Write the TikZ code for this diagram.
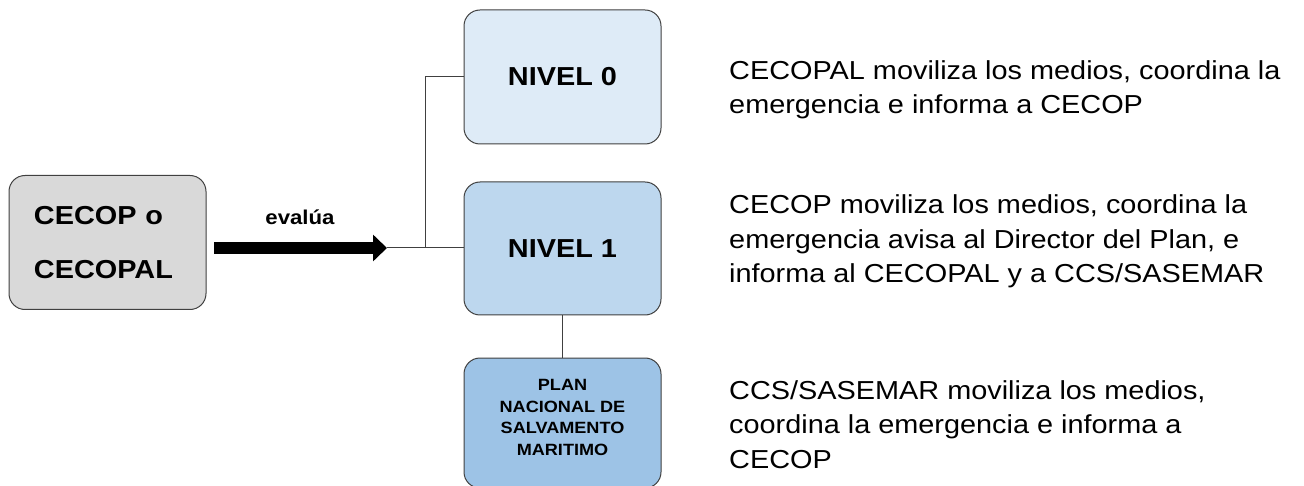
\documentclass[tikz,border=0pt]{standalone}
\usepackage{fontspec}
\newfontfamily\arialw[FakeStretch=1.11]{Liberation Sans}
\usetikzlibrary{arrows.meta}
\definecolor{grayfill}{HTML}{D9D9D9}
\definecolor{blueA}{HTML}{DEEBF7}
\definecolor{blueB}{HTML}{BDD7EE}
\definecolor{blueC}{HTML}{9DC3E6}
\definecolor{edgecol}{HTML}{404040}
\begin{document}
\begin{tikzpicture}[x=1pt,y=-1pt,
  box/.style={draw=edgecol, line width=1pt, rounded corners=16pt, minimum width=197pt, inner sep=0pt},
  conn/.style={draw=edgecol, line width=1pt},
  bigarrow/.style={line width=12pt, -{Triangle[length=14pt,width=26pt]}},
  desc/.style={anchor=base west, align=left, inner sep=0pt, font=\arialw\fontsize{26}{34.5}\selectfont}]
\useasboundingbox (0,0) rectangle (1304,486);
\clip (0,0) rectangle (1304,486);
\node[box, fill=grayfill, minimum height=134pt, text width=147pt, align=left,
  font=\arialw\bfseries\fontsize{26}{54}\selectfont] (cecop) at (107.5,242.5) {CECOP o\\CECOPAL};
\node[box, fill=blueA, minimum height=134pt, font=\arialw\bfseries\fontsize{26}{30}\selectfont] (n0) at (562.5,77) {NIVEL 0};
\node[box, fill=blueB, minimum height=133pt, font=\arialw\bfseries\fontsize{26}{30}\selectfont] (n1) at (562.5,248.5) {NIVEL 1};
\node[box, fill=blueC, minimum height=130pt, align=center, text depth=11pt,
  font=\arialw\bfseries\fontsize{16.3}{21.5}\selectfont] (plan) at (562.5,423) {PLAN\\NACIONAL DE\\SALVAMENTO\\MARITIMO};
\node[anchor=base, inner sep=0pt, font=\arialw\bfseries\fontsize{20}{24}\selectfont] (eval) at (300,225) {evalúa};
\coordinate (astart) at (214,248);
\coordinate (tip) at (387,248);
\coordinate (junc) at (425,248);
\draw[bigarrow] (astart) -- (tip);
\draw[conn] (tip) -- (tip -| n1.west);
\draw[conn] (junc) |- (n0.west);
\draw[conn] (n1.south) -- (plan.north);
\node[desc] (d0) at (729,114) {CECOPAL moviliza los medios, coordina la\\emergencia e informa a CECOP};
\node[desc] (d1) at (729,283) {CECOP moviliza los medios, coordina la\\emergencia avisa al Director del Plan, e\\informa al CECOPAL y a CCS/SASEMAR};
\node[desc] (d2) at (729,468) {CCS/SASEMAR moviliza los medios,\\coordina la emergencia e informa a\\CECOP};
\end{tikzpicture}
\end{document}
